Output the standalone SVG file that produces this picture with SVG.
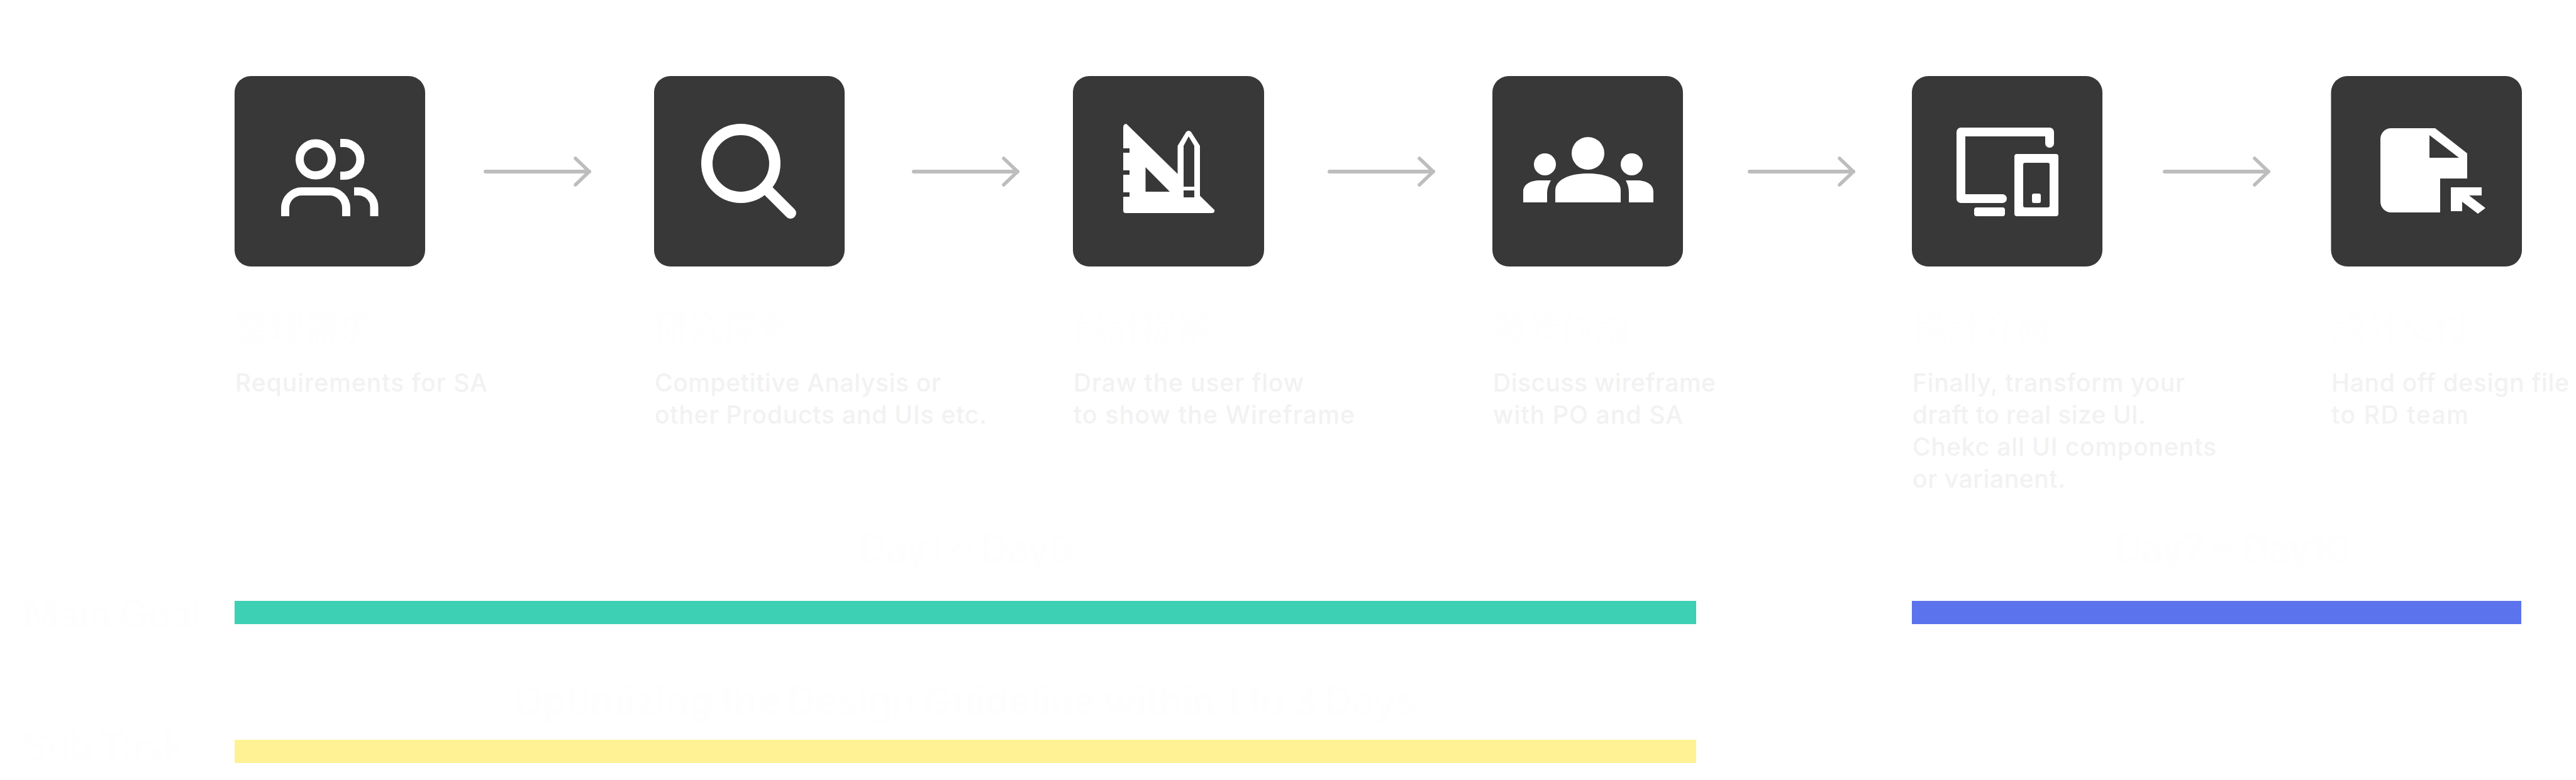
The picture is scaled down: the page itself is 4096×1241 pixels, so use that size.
<svg xmlns="http://www.w3.org/2000/svg" width="4096" height="1241" viewBox="0 0 4096 1241">
<style>
.box{fill:#383838}
.w{fill:#fff}
.d{fill:#383838}
.ws{fill:none;stroke:#fff;stroke-width:13}
.title{font-family:"Noto Sans CJK TC","Noto Sans CJK SC",sans-serif;font-weight:700;font-size:55px;fill:#fefefe}
.desc{font-family:Inter,"Liberation Sans",sans-serif;font-weight:500;font-size:39px;fill:#f2f2f2}
.lab{font-family:Inter,"Liberation Sans",sans-serif;font-weight:700;font-size:62px;fill:#fefefe}
.conn{fill:none;stroke:#bdbdbd;stroke-width:6;stroke-linecap:round;marker-end:url(#head)}
</style>
<defs>
<marker id="head" markerUnits="userSpaceOnUse" markerWidth="40" markerHeight="60" refX="30" refY="30" orient="auto" overflow="visible">
<path d="M8 9L30 30L8 51" fill="none" stroke="#bdbdbd" stroke-width="5.500" stroke-linecap="round" stroke-linejoin="round"/>
</marker>
</defs>
<rect width="4096" height="1241" fill="#fff"/>
<g id="connectors">
<path class="conn" d="M772 273H937"/>
<path class="conn" d="M1453 273H1618"/>
<path class="conn" d="M2114 273H2279"/>
<path class="conn" d="M2782 273H2947"/>
<path class="conn" d="M3442 273H3607"/>
</g>
<g id="node-1">
<rect class="box" x="373" y="121" width="303" height="303" rx="26"/>
<circle class="ws" cx="502" cy="253.5" r="25.5"/>
<path class="ws" d="M541 227.5H547A26 26 0 0 1 547 279.5H541"/>
<path class="ws" d="M453.500 344V331A26.500 26.500 0 0 1 480 304.500H524A26.500 26.500 0 0 1 550.500 331V344"/>
<path class="ws" d="M563 304.500H570A25 25 0 0 1 595 330V344"/>
<text class="title" x="374" y="541" textLength="219">整理需求</text>
<text class="desc" x="374" y="623" textLength="401">Requirements for SA</text>
</g>
<g id="node-2">
<rect class="box" x="1040" y="121" width="303" height="303" rx="26"/>
<circle cx="1178" cy="260" r="54" fill="none" stroke="#fff" stroke-width="18"/>
<path d="M1222 304L1257 339" fill="none" stroke="#fff" stroke-width="18" stroke-linecap="round"/>
<text class="title" x="1041" y="541" textLength="219">研究探索</text>
<text class="desc" x="1041" y="623" textLength="455">Competitive Analysis or</text>
<text class="desc" x="1041" y="674" textLength="528">other Products and UIs etc.</text>
</g>
<g id="node-3">
<rect class="box" x="1706" y="121" width="304" height="303" rx="26"/>
<path class="w" d="M1786 203Q1786 197 1791 197L1931 334Q1932 339 1927 339H1790Q1786 339 1786 335Z"/>
<path class="w" d="M1872.500 232L1886 210Q1890 206 1894 210L1908 232V320H1872.500Z"/>
<path class="d" d="M1786 236h10v7h-10zM1786 271h10v7h-10zM1786 306h10v7h-10zM1821.500 266L1860 305H1821.500ZM1882 232L1890 217L1899 232V297H1882ZM1882 303H1899V314H1882Z"/>
<text class="title" x="1707" y="541" textLength="219">設計提案</text>
<text class="desc" x="1707" y="623" textLength="366">Draw the user flow</text>
<text class="desc" x="1707" y="674" textLength="447">to show the Wireframe</text>
</g>
<g id="node-4">
<rect class="box" x="2373" y="121" width="303" height="303" rx="26"/>
<circle class="w" cx="2525" cy="244" r="26"/>
<circle class="w" cx="2456.500" cy="261.500" r="17.500"/>
<circle class="w" cx="2594.500" cy="261.500" r="17.500"/>
<path class="w" d="M2473 322V303C2473 286 2495 276 2525 276C2555 276 2577 286 2577 303V322Z"/>
<path class="w" d="M2422 322V305C2422 293 2434 287 2448 287H2466C2462 295 2460 300 2460 308V322Z"/>
<path class="w" d="M2629 322V305C2629 293 2617 287 2603 287H2585C2589 295 2590 300 2590 308V322Z"/>
<text class="title" x="2374" y="541" textLength="219">發表討論</text>
<text class="desc" x="2374" y="623" textLength="354">Discuss wireframe</text>
<text class="desc" x="2374" y="674" textLength="302">with PO and SA</text>
</g>
<g id="node-5">
<rect class="box" x="3040" y="121" width="303" height="303" rx="26"/>
<path d="M3259 228V210H3118V316H3184" fill="none" stroke="#fff" stroke-width="14" stroke-linecap="round" stroke-linejoin="round"/>
<rect class="w" x="3139" y="330" width="49" height="14" rx="4"/>
<rect class="w" x="3203" y="245" width="70" height="99" rx="4"/>
<rect class="d" x="3217" y="259" width="42" height="71" rx="3"/>
<rect class="w" x="3231" y="308" width="14" height="15" rx="3"/>
<text class="title" x="3041" y="541" textLength="219">設計介面</text>
<text class="desc" x="3041" y="623" textLength="433">Finally, transform your</text>
<text class="desc" x="3041" y="674" textLength="371">draft to real size UI.</text>
<text class="desc" x="3041" y="725" textLength="483">Chekc all UI components</text>
<text class="desc" x="3041" y="776" textLength="243">or varianent.</text>
</g>
<g id="node-6">
<rect class="box" x="3706.500" y="121" width="303.500" height="303" rx="26"/>
<path class="w" d="M3802 204H3872L3923 244V284H3880V338H3802A17 17 0 0 1 3785 321V221A17 17 0 0 1 3802 204Z"/>
<path class="d" d="M3863 215L3910 251H3863Z"/>
<path class="w" d="M3897 298H3946V311H3926L3952 331L3940 340L3915 321V336H3897Z"/>
<text class="title" x="3707" y="541" textLength="219">設計交付</text>
<text class="desc" x="3707" y="623" textLength="378">Hand off design file</text>
<text class="desc" x="3707" y="674" textLength="218">to RD team</text>
</g>
<g id="schedule">
<rect x="373" y="956" width="2324" height="37" fill="#3dd0b4"/>
<rect x="3040" y="956" width="969" height="37" fill="#5b73ec"/>
<rect x="373" y="1177" width="2324" height="37" fill="#fef295"/>
<text class="lab" x="36" y="999" textLength="285">Main Goal</text>
<text class="lab" x="36" y="1208" textLength="259">Sub Task</text>
<text class="lab" x="1366" y="895" textLength="342">Day1 ~ Day6</text>
<text class="lab" x="3362" y="895" textLength="376">Day7 ~ Day10</text>
<text class="lab" x="817" y="1137" textLength="1436">Optimizing the Design Guideline within 1 to 3 Days</text>
</g>
</svg>
